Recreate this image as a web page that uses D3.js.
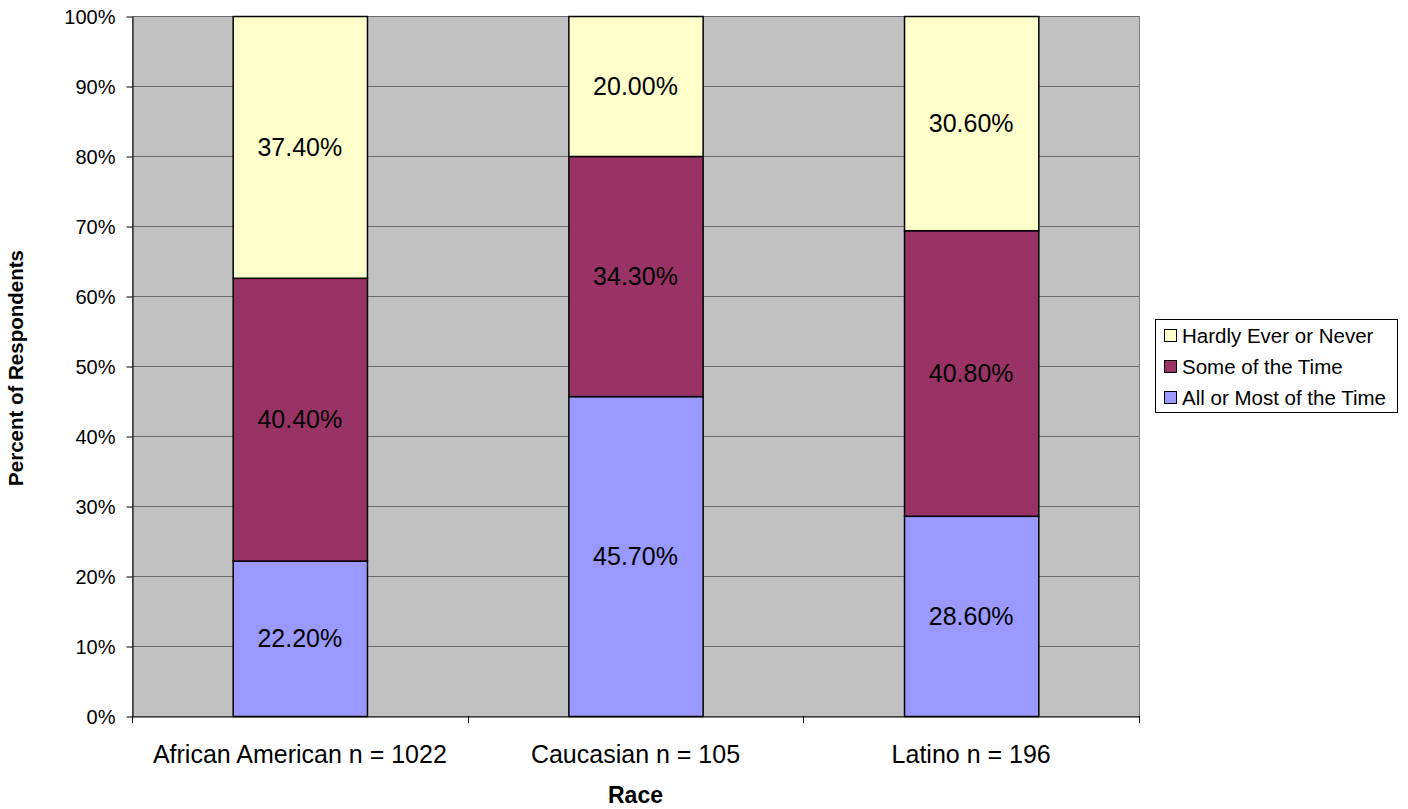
<!DOCTYPE html>
<html>
<head>
<meta charset="utf-8">
<script src="https://cdn.jsdelivr.net/npm/d3@7"></script>
<style>
  html, body { margin: 0; padding: 0; background: #ffffff; }
  svg { display: block; font-family: "Liberation Sans", Arial, sans-serif; }
</style>
</head>
<body>
<svg id="chart" width="1408" height="809"></svg>
<script>
// Categories and stacked series (percent of respondents)
const categories = ["African American n = 1022", "Caucasian n = 105", "Latino n = 196"];
const seriesNames = ["All or Most of the Time", "Some of the Time", "Hardly Ever or Never"];
const allOrMost = [22.2, 45.7, 28.6];
const someOfTime = [40.4, 34.3, 40.8];
const hardlyEver = [37.4, 20.0, 30.6];
const yTicks = [0, 10, 20, 30, 40, 50, 60, 70, 80, 90, 100];
const colors = ["#9999FF", "#993366", "#FFFFCC"];

const seriesValues = [allOrMost, someOfTime, hardlyEver];
const rows = categories.map((c, i) => {
  const r = { cat: c };
  seriesNames.forEach((s, j) => r[s] = seriesValues[j][i]);
  return r;
});

const FONT = "Liberation Sans, Arial, sans-serif";
const svg = d3.select("#chart");
const plot = { left: 132, right: 1139, top: 16, bottom: 716 };

const x = d3.scaleBand().domain(categories).range([plot.left, plot.right]).paddingInner(0.6).paddingOuter(0.3);
const y = d3.scaleLinear().domain([0, 100]).range([plot.bottom, plot.top]);

// Plot background
svg.append("rect")
  .attr("x", plot.left + 0.5).attr("y", plot.top + 0.5)
  .attr("width", plot.right - plot.left).attr("height", plot.bottom - plot.top)
  .attr("fill", "#C0C0C0").attr("stroke", "#808080").attr("stroke-width", 1);

// Gridlines
svg.append("g").selectAll("line").data(yTicks.filter(t => t > 0)).join("line")
  .attr("x1", plot.left).attr("x2", plot.right)
  .attr("y1", d => y(d) + 0.5).attr("y2", d => y(d) + 0.5)
  .attr("stroke", "#6a6a6a").attr("stroke-width", 1);

// Stacked bars
const stack = d3.stack().keys(seriesNames)(rows);
const layers = svg.append("g").selectAll("g").data(stack).join("g")
  .attr("fill", (d, i) => colors[i]);
layers.selectAll("rect").data(d => d).join("rect")
  .attr("x", d => x(d.data.cat) + 0.5)
  .attr("y", d => y(d[1]) + 0.5)
  .attr("width", x.bandwidth())
  .attr("height", d => y(d[0]) - y(d[1]))
  .attr("stroke", "#000").attr("stroke-width", 1.5);

// Value labels
const labelSize = 25;
layers.selectAll("text").data(d => d).join("text")
  .attr("x", d => x(d.data.cat) + x.bandwidth() / 2)
  .attr("y", d => (y(d[0]) + y(d[1])) / 2 + labelSize * 0.36)
  .attr("text-anchor", "middle")
  .attr("font-size", labelSize).attr("fill", "#000")
  .text(d => (d[1] - d[0]).toFixed(2) + "%");

// Y axis
const yAxis = d3.axisLeft(y).tickValues(yTicks).tickFormat(d => d + "%").tickSize(6).tickSizeOuter(0);
const yg = svg.append("g").attr("transform", `translate(${plot.left + 0.5},0.5)`).call(yAxis);
yg.select(".domain").attr("stroke", "#000");
yg.selectAll(".tick line").attr("stroke", "#000");
yg.selectAll(".tick text").attr("font-size", 20).attr("font-family", FONT).attr("fill", "#000")
  .attr("x", -17).attr("dy", "0.36em");

// X axis
const xAxis = d3.axisBottom(x).tickSize(0).tickSizeOuter(0);
const xg = svg.append("g").attr("transform", `translate(0,${plot.bottom + 0.5})`).call(xAxis);
xg.select(".domain").attr("stroke", "#000");
xg.selectAll(".tick text").attr("font-size", 25).attr("font-family", FONT).attr("fill", "#000")
  .attr("y", 46).attr("dy", 0);
// Category divider ticks
const bounds = [0, 1, 2, 3].map(i => plot.left + i * (plot.right - plot.left) / 3);
svg.append("g").selectAll("line").data(bounds).join("line")
  .attr("x1", d => Math.round(d) + 0.5).attr("x2", d => Math.round(d) + 0.5)
  .attr("y1", plot.bottom).attr("y2", plot.bottom + 7)
  .attr("stroke", "#000");

// Axis titles
svg.append("text").attr("x", (plot.left + plot.right) / 2).attr("y", 803)
  .attr("text-anchor", "middle").attr("font-size", 23).attr("font-weight", "bold").text("Race");
svg.append("text").attr("transform", "translate(23,368) rotate(-90)")
  .attr("text-anchor", "middle").attr("font-size", 20.5).attr("font-weight", "bold").text("Percent of Respondents");

// Legend
const legend = svg.append("g");
legend.append("rect").attr("x", 1155.5).attr("y", 319.5).attr("width", 242).attr("height", 93)
  .attr("fill", "#fff").attr("stroke", "#000");
const legendOrder = [2, 1, 0];
legendOrder.forEach((si, k) => {
  const cy = 336 + k * 31;
  legend.append("rect").attr("x", 1164.5).attr("y", cy - 6.5).attr("width", 12).attr("height", 12)
    .attr("fill", colors[si]).attr("stroke", "#000");
  legend.append("text").attr("x", 1182).attr("y", cy + 7.3)
    .attr("font-size", 20.5).text(seriesNames[si]);
});
</script>
</body>
</html>
